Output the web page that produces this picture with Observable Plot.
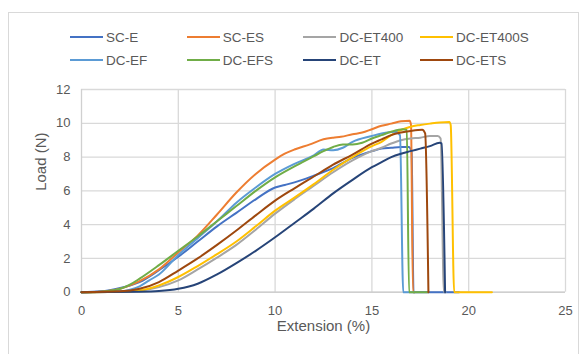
<!DOCTYPE html>
<html><head><meta charset="utf-8">
<script src="https://cdn.jsdelivr.net/npm/d3@7"></script>
<script src="https://cdn.jsdelivr.net/npm/@observablehq/plot@0.6"></script>
<style>
body{margin:0;background:#fff;font-family:"Liberation Sans",Arial,sans-serif;}
#wrap{position:relative;width:579px;height:354px;overflow:hidden;}
#frame{position:absolute;left:8px;top:12px;width:569px;height:400px;border:1px solid #d9d9d9;}
#legend{position:absolute;left:0;top:0;width:579px;height:80px;}
.item{position:absolute;display:flex;align-items:center;font-size:13.5px;color:#595959;height:16px;}
.item .sw{display:inline-block;width:33px;height:2.5px;margin-right:3px;}
#chart{position:absolute;left:0;top:80px;}
</style></head><body>
<div id="wrap"><div id="frame"></div><div id="legend"></div><div id="chart"></div></div>
<script>
const seriesNames = ["SC-E","SC-ES","DC-ET400","DC-ET400S","DC-EF","DC-EFS","DC-ET","DC-ETS"];
const seriesColors = ["#4472C4","#ED7D31","#A5A5A5","#FFC000","#5B9BD5","#70AD47","#264478","#9E480E"];
const xTicks = [0,5,10,15,20,25];
const yTicks = [0,2,4,6,8,10,12];

const scE_x = [0,1,2,2.5,3,4,5,6,7,8,9,10,10.5,11,12,13,14,15,15.5,16,16.5,16.9,17.05,17.15,19.5];
const scE_y = [0,0.05,0.25,0.4,0.6,1.3,2.1,3.0,3.9,4.7,5.5,6.2,6.35,6.5,6.9,7.35,7.95,8.35,8.5,8.55,8.6,8.6,8.3,0,0];
const scES_x = [0,1,2,2.5,3,4,5,6,7,8,9,10,10.5,11,11.8,12.5,13,13.4,14,14.5,15,15.5,16,16.5,16.95,17.02,17.12,17.2];
const scES_y = [0,0.03,0.2,0.4,0.65,1.35,2.35,3.35,4.6,5.9,7.0,7.85,8.2,8.45,8.75,9.05,9.15,9.2,9.35,9.45,9.65,9.85,9.98,10.12,10.15,9.9,0,0];
const dcET400_x = [0,2,3,4,5,6,7,8,9,10,11,12,13,14,15,15.5,16,16.5,17,17.5,18,18.4,18.55,18.72,18.8];
const dcET400_y = [0,0.02,0.08,0.3,0.7,1.35,2.05,2.8,3.7,4.65,5.5,6.3,7.1,7.8,8.35,8.55,8.8,9.0,9.1,9.15,9.25,9.25,9.1,0,0];
const dcET400S_x = [0,2,3,4,5,6,7,8,9,10,11,12,13,14,15,15.5,16,16.5,17,17.5,18,18.5,19.0,19.07,19.25,21.2];
const dcET400S_y = [0,0.02,0.1,0.4,0.9,1.55,2.25,3.0,3.9,4.83,5.6,6.4,7.25,8.0,8.65,8.9,9.3,9.6,9.8,9.9,9.98,10.05,10.08,9.9,0,0];
const dcEF_x = [0,2,2.5,3,3.5,4,5,6,7,8,9,10,11,12,12.5,13,13.5,14,15,15.5,16.2,16.45,16.62,17.2];
const dcEF_y = [0,0.05,0.15,0.35,0.7,1.05,2.2,3.2,4.2,5.3,6.2,7.0,7.6,8.1,8.45,8.4,8.55,8.9,9.25,9.4,9.5,9.3,0,0];
const dcEFS_x = [0,1,2,2.5,3,4,5,6,7,8,9,10,11,12,12.5,13,13.5,14,14.5,15,15.5,16,16.6,16.8,16.92,17.9];
const dcEFS_y = [0,0.03,0.2,0.45,0.8,1.6,2.45,3.3,4.2,5.1,6.0,6.8,7.45,8.05,8.35,8.6,8.75,8.75,8.85,9.1,9.3,9.5,9.65,9.6,0,0];
const dcET_x = [0,3,4,5,6,7,8,9,10,11,12,13,14,15,15.5,16,16.5,17,17.5,18,18.5,18.6,18.78];
const dcET_y = [0,0.03,0.07,0.2,0.5,1.05,1.72,2.45,3.25,4.1,4.95,5.85,6.65,7.4,7.7,8.0,8.2,8.35,8.5,8.65,8.85,8.8,0];
const dcETS_x = [0,2,3,4,5,6,7,8,9,10,11,12,13,14,15,15.5,16,16.5,17,17.6,17.75,17.92];
const dcETS_y = [0,0.05,0.2,0.6,1.28,2.0,2.8,3.65,4.55,5.42,6.15,6.85,7.55,8.15,8.8,9.05,9.3,9.45,9.55,9.62,9.4,0];

const seriesX = [scE_x, scES_x, dcET400_x, dcET400S_x, dcEF_x, dcEFS_x, dcET_x, dcETS_x];
const seriesY = [scE_y, scES_y, dcET400_y, dcET400S_y, dcEF_y, dcEFS_y, dcET_y, dcETS_y];

const data = [];
seriesNames.forEach((name, i) => {
  seriesX[i].forEach((x, j) => data.push({series: name, x, y: seriesY[i][j]}));
});

// legend
const legend = document.getElementById("legend");
seriesNames.forEach((name, i) => {
  const col = i % 4, row = Math.floor(i / 4);
  const d = document.createElement("div");
  d.className = "item";
  d.style.left = (70 + col * 116.7) + "px";
  d.style.top = (29 + row * 23) + "px";
  const sw = document.createElement("span");
  sw.className = "sw";
  sw.style.background = seriesColors[i];
  d.appendChild(sw);
  d.appendChild(document.createTextNode(name));
  legend.appendChild(d);
});

const font = '"Liberation Sans", Arial, sans-serif';
const chart = Plot.plot({
  width: 579,
  height: 274,
  marginLeft: 81,
  marginRight: 14,
  marginTop: 9,
  marginBottom: 62.3,
  style: {fontFamily: font, color: "#595959", background: "transparent", overflow: "visible"},
  x: {domain: [0, 25]},
  y: {domain: [0, 12]},
  color: {domain: seriesNames, range: seriesColors},
  marks: [
    Plot.gridX(xTicks.filter(t => t > 0), {stroke: "#d9d9d9", strokeOpacity: 1, strokeWidth: 1.3}),
    Plot.gridY(yTicks.filter(t => t > 0), {stroke: "#d9d9d9", strokeOpacity: 1, strokeWidth: 1.3}),
    Plot.ruleX([0], {stroke: "#d0d0d0", strokeWidth: 1.3}),
    Plot.ruleY([0], {stroke: "#bfbfbf", strokeWidth: 1.3}),
    Plot.axisX({ticks: xTicks, tickSize: 0, tickPadding: 13.5, label: null, fontSize: 13, fill: "#595959"}),
    Plot.axisY({ticks: yTicks, tickSize: 0, tickPadding: 11, label: null, fontSize: 13, fill: "#595959"}),
    Plot.line(data, {x: "x", y: "y", z: "series", stroke: "series", strokeWidth: 2, curve: "monotone-x"}),
    Plot.text(["Extension (%)"], {frameAnchor: "bottom", dy: 38.5, fontSize: 15, fill: "#595959"}),
    Plot.text(["Load (N)"], {frameAnchor: "left", dx: -40.5, rotate: -90, fontSize: 15, fill: "#595959"})
  ]
});
document.getElementById("chart").appendChild(chart);
</script>
</body></html>
